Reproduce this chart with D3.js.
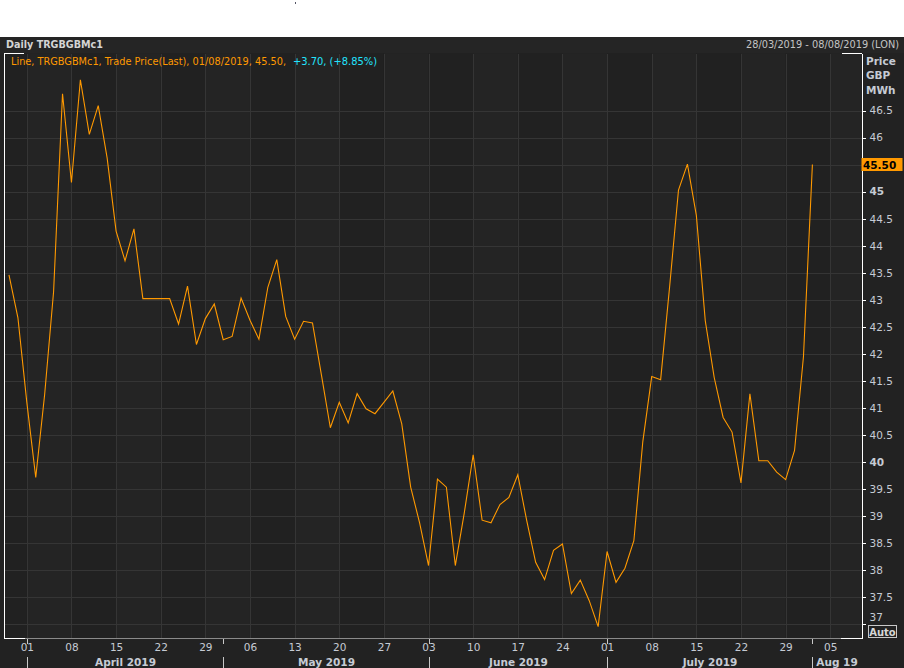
<!DOCTYPE html>
<html><head><meta charset="utf-8">
<script src="https://cdn.jsdelivr.net/npm/d3@7"></script>
<style>html,body{margin:0;padding:0;background:#fff;} svg{display:block;}</style>
</head><body>
<svg id="chart" width="904" height="668"></svg>
<script>
// ---------- data ----------
const title = "Daily TRGBGBMc1";
const dateRangeLabel = "28/03/2019 - 08/08/2019 (LON)";
const legendMain = "Line, TRGBGBMc1, Trade Price(Last), 01/08/2019, 45.50,";
const legendChange = "+3.70, (+8.85%)";
const unitLabels = ["Price", "GBP", "MWh"];
const lastValueLabel = "45.50";
const firstTradeDate = "2019-03-28";
const lastTradeDate = "2019-08-01";
const axisEndDate = "2019-08-08";
// daily closes, one per weekday from 28/03/2019 to 01/08/2019
const prices = [
  43.46, 42.67,
  41.10, 39.71, 41.25, 43.15, 46.81,
  45.17, 47.07, 46.06, 46.59, 45.62,
  44.27, 43.72, 44.31, 43.02, 43.02,
  43.02, 43.02, 42.55, 43.25, 42.17,
  42.65, 42.92, 42.26, 42.32, 43.03,
  42.62, 42.27, 43.23, 43.74, 42.69,
  42.27, 42.60, 42.57, 41.61, 40.63,
  41.10, 40.72, 41.26, 40.98, 40.89,
  41.10, 41.31, 40.70, 39.53, 38.87,
  38.08, 39.68, 39.53, 38.08, 39.05,
  40.13, 38.92, 38.87, 39.21, 39.34,
  39.76, 38.91, 38.14, 37.82, 38.36,
  38.48, 37.56, 37.81, 37.43, 36.95,
  38.34, 37.77, 38.03, 38.54, 40.37,
  41.58, 41.52, 43.23, 45.03, 45.51,
  44.56, 42.61, 41.56, 40.82, 40.55,
  39.61, 41.26, 40.02, 40.02, 39.81,
  39.67, 40.21, 41.95, 45.50
];
const yTicks = [37, 37.5, 38, 38.5, 39, 39.5, 40, 40.5, 41, 41.5, 42, 42.5, 43, 43.5, 44, 44.5, 45, 45.5, 46, 46.5];
const yDomain = [36.73, 47.556];
const monthStarts = ["2019-04-01", "2019-05-01", "2019-06-03", "2019-07-01", "2019-08-01"];
const monthLabels = ["April 2019", "May 2019", "June 2019", "July 2019", "Aug 19"];

// ---------- helpers ----------
const parse = d3.timeParse("%Y-%m-%d");
const key = d3.timeFormat("%Y-%m-%d");
const weekdays = (a, b) => d3.timeDay.range(parse(a), d3.timeDay.offset(parse(b), 1)).filter(d => d.getDay() % 6 !== 0);
const axisDays = weekdays(firstTradeDate, axisEndDate);
const tradeDays = weekdays(firstTradeDate, lastTradeDate);
const series = tradeDays.map((d, i) => ({ k: key(d), v: prices[i] }));
const mondays = axisDays.filter(d => d.getDay() === 1 && d >= parse("2019-04-01"));

const L = 4.5, R = 861.5, T = 53.5, B = 638.5;
const x = d3.scalePoint().domain(axisDays.map(key)).range([L, R]).padding(0.5);
const y = d3.scaleLinear().domain(yDomain).range([B, T]);

const svg = d3.select("#chart");
const FONT = "DejaVu Sans, Verdana, sans-serif";
const LBL = "#c6cbd4";

svg.append("rect").attr("x", 0).attr("y", 0).attr("width", 904).attr("height", 668).attr("fill", "#fff");
svg.append("rect").attr("x", 0).attr("y", 37).attr("width", 904).attr("height", 631).attr("fill", "#222222");
svg.append("rect").attr("x", 0).attr("y", 37).attr("width", 904).attr("height", 16).attr("fill", "#252525");
svg.append("rect").attr("x", 295).attr("y", 2).attr("width", 1).attr("height", 2).attr("fill", "#556");

// weekly bands
const bandEdges = [L].concat(mondays.map(d => x(key(d)))).concat([R]);
const bands = svg.append("g");
for (let i = 0; i < bandEdges.length - 1; i++) {
  bands.append("rect").attr("x", bandEdges[i]).attr("y", T).attr("width", bandEdges[i + 1] - bandEdges[i])
    .attr("height", B - T).attr("fill", i % 2 ? "#242424" : "#212121");
}

// grid
const grid = svg.append("g").attr("stroke", "#353535").attr("stroke-width", 1).attr("shape-rendering", "crispEdges");
yTicks.forEach(t => grid.append("line").attr("x1", L).attr("x2", R).attr("y1", Math.round(y(t)) + 0.5).attr("y2", Math.round(y(t)) + 0.5));
mondays.forEach(d => {
  const xx = Math.round(x(key(d))) + 0.5;
  grid.append("line").attr("x1", xx).attr("x2", xx).attr("y1", T).attr("y2", B);
});

// line
svg.append("clipPath").attr("id", "clip").append("rect").attr("x", L).attr("y", T).attr("width", R - L).attr("height", B - T);
const line = d3.line().x(d => x(d.k)).y(d => y(d.v));
svg.append("path").datum(series).attr("d", line).attr("fill", "none").attr("stroke", "#ff9900")
  .attr("stroke-width", 1.1).attr("clip-path", "url(#clip)");

// frame corners
const frame = svg.append("g").attr("stroke", "#ffffff").attr("stroke-width", 1).attr("shape-rendering", "crispEdges");
frame.append("line").attr("x1", 4.5).attr("x2", 4.5).attr("y1", 53).attr("y2", 639);
frame.append("line").attr("x1", 4).attr("x2", 24).attr("y1", 53.5).attr("y2", 53.5);
frame.append("line").attr("x1", 4).attr("x2", 25).attr("y1", 638.5).attr("y2", 638.5);
frame.append("line").attr("x1", 842).attr("x2", 862).attr("y1", 53.5).attr("y2", 53.5);
frame.append("line").attr("x1", 841).attr("x2", 862).attr("y1", 638.5).attr("y2", 638.5);
svg.append("line").attr("x1", 25).attr("x2", 841).attr("y1", 638.5).attr("y2", 638.5)
  .attr("stroke", "#8a8a8a").attr("shape-rendering", "crispEdges");

// y axis (45.5 label is covered by the last-value box in the reference)
const lastV = series[series.length - 1].v;
const yAxis = d3.axisRight(y).tickValues(yTicks).tickSize(4).tickSizeOuter(0).tickPadding(4)
  .tickFormat(d => Number.isInteger(d) ? String(d) : d.toFixed(1));
const ya = svg.append("g").attr("transform", "translate(861.5,0)").call(yAxis);
ya.select(".domain").attr("stroke", "#fff").attr("shape-rendering", "crispEdges");
ya.selectAll(".tick line").attr("stroke", "#fff").attr("shape-rendering", "crispEdges");
ya.selectAll(".tick text").attr("fill", LBL).attr("font-family", FONT).attr("font-size", 10.5)
  .attr("font-weight", d => d % 5 === 0 ? "bold" : "normal")
  .attr("dy", d => d === yTicks[0] ? "-0.35em" : "0.32em");
ya.selectAll(".tick text").filter(d => Math.abs(y(d) - y(lastV)) < 8).remove();

// units
unitLabels.forEach((u, i) => svg.append("text").attr("x", 866).attr("y", [65, 79, 94][i]).text(u)
  .attr("fill", LBL).attr("font-family", FONT).attr("font-size", 10.5).attr("font-weight", "bold"));

// last value box
svg.append("rect").attr("x", 861.5).attr("y", Math.round(y(lastV)) - 7).attr("width", 41).attr("height", 13).attr("fill", "#ff9900");
svg.append("text").attr("x", 863).attr("y", Math.round(y(lastV)) + 4).text(lastValueLabel)
  .attr("fill", "#000").attr("font-family", FONT).attr("font-size", 10.5).attr("font-weight", "bold");

// Auto box
svg.append("rect").attr("x", 868.5).attr("y", 625.5).attr("width", 28).attr("height", 12).attr("fill", "none").attr("stroke", "#c8c8c8");
svg.append("text").attr("x", 882.5).attr("y", 635.5).attr("text-anchor", "middle").text("Auto")
  .attr("fill", "#d6d6d6").attr("font-family", FONT).attr("font-size", 10).attr("font-weight", "bold");

// x axis day labels
const xAxis = d3.axisBottom(x).tickValues(mondays.map(key)).tickSize(0).tickPadding(0)
  .tickFormat(k => d3.timeFormat("%d")(parse(k)));
const xa = svg.append("g").attr("transform", "translate(0,644)").call(xAxis);
xa.select(".domain").remove();
xa.selectAll(".tick text").attr("fill", LBL).attr("font-family", FONT).attr("font-size", 10.5).attr("dy", "0.71em");

// month separators and labels
const sepX = monthStarts.map(m => Math.round(x(m)) + 0.5);
const seps = svg.append("g").attr("stroke", "#c8c8c8").attr("shape-rendering", "crispEdges");
sepX.forEach(sx => {
  seps.append("line").attr("x1", sx).attr("x2", sx).attr("y1", 639).attr("y2", 644);
  seps.append("line").attr("x1", sx).attr("x2", sx).attr("y1", 657).attr("y2", 668);
});
monthLabels.forEach((m, i) => {
  const a = sepX[i], b = i + 1 < sepX.length ? sepX[i + 1] : R;
  svg.append("text").attr("x", (a + b) / 2).attr("y", 666).attr("text-anchor", "middle").text(m)
    .attr("fill", LBL).attr("font-family", FONT).attr("font-size", 10.5).attr("font-weight", "bold");
});

// header
svg.append("text").attr("x", 6).attr("y", 48).text(title).attr("fill", "#d4d4d4")
  .attr("font-family", FONT).attr("font-size", 11).attr("font-weight", "bold")
  .attr("textLength", 97).attr("lengthAdjust", "spacingAndGlyphs");
svg.append("text").attr("x", 746).attr("y", 48).text(dateRangeLabel).attr("fill", "#c4c4c4")
  .attr("font-family", FONT).attr("font-size", 10)
  .attr("textLength", 153).attr("lengthAdjust", "spacingAndGlyphs");

// legend
svg.append("text").attr("x", 11).attr("y", 65).text(legendMain).attr("fill", "#ff9900")
  .attr("font-family", FONT).attr("font-size", 10)
  .attr("textLength", 275).attr("lengthAdjust", "spacingAndGlyphs");
svg.append("text").attr("x", 293).attr("y", 65).text(legendChange).attr("fill", "#22e4ff")
  .attr("font-family", FONT).attr("font-size", 10)
  .attr("textLength", 84).attr("lengthAdjust", "spacingAndGlyphs");
</script>
</body></html>
